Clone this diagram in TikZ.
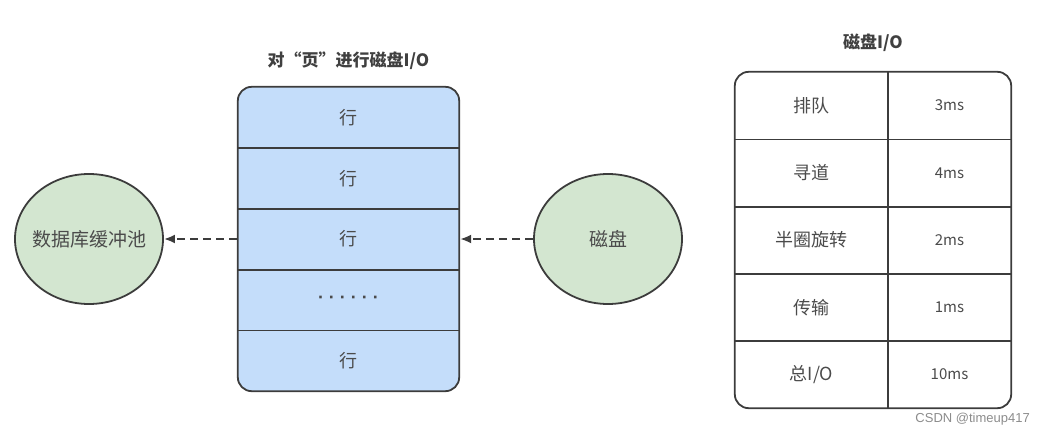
\documentclass[tikz,border=0pt]{standalone}
\usepackage{fontspec}
\newfontfamily\cn{Noto Sans CJK SC}
\newfontfamily\wm{Liberation Sans}
\usetikzlibrary{positioning,shapes,fit,arrows.meta,backgrounds}
\definecolor{poolgreen}{RGB}{211,230,208}
\definecolor{pageblue}{RGB}{196,221,250}
\definecolor{inkgray}{RGB}{60,60,60}
\definecolor{textgray}{RGB}{75,75,75}

\begin{document}
\begin{tikzpicture}
[x=1pt, y=-1pt, node distance=0pt,
 pool/.style={ellipse, draw=inkgray, line width=1.8pt, fill=poolgreen, minimum width=148pt, minimum height=130pt, inner xsep=-7pt, inner ysep=0pt, text=textgray, font=\cn\fontsize{19}{22}\selectfont},
 page/.style={draw=inkgray, line width=1.8pt, fill=pageblue, rounded corners=14pt, inner sep=0pt},
 rowcell/.style={minimum width=221pt, minimum height=60.8pt, inner sep=0pt, text=textgray, font=\cn\fontsize{18}{21}\selectfont},
 namecell/.style={minimum width=153pt, minimum height=67.2pt, inner sep=0pt, text=textgray, font=\cn\fontsize{18}{21}\selectfont},
 timecell/.style={minimum width=123pt, minimum height=67.2pt, inner sep=0pt, text=textgray, font=\cn\fontsize{15}{18}\selectfont},
 tableframe/.style={draw=inkgray, line width=1.8pt, rounded corners=14pt, inner sep=0pt},
 sep/.style={draw=inkgray, line width=1.8pt},
 title/.style={inner sep=0pt, text=black!75, font=\cn\bfseries\fontsize{17}{20}\selectfont},
 readarrow/.style={-{Latex[length=11pt,width=9pt]}, draw=inkgray, line width=2.2pt, dash pattern=on 8pt off 5pt},
 watermark/.style={inner sep=0pt, text=black!45, font=\wm\fontsize{13}{15}\selectfont}]
\useasboundingbox (0,0) rectangle (1044,436);
% one page, five rows
\matrix [row sep=0pt, inner sep=0pt] (page) at (348.5,239)
{\node[rowcell] (r1) {行}; \\
 \node[rowcell] (r2) {行}; \\
 \node[rowcell] (r3) {行}; \\
 \node[rowcell] (r4) {\wm\bfseries · · · · · ·}; \\
 \node[rowcell] (r5) {行}; \\
};
\begin{scope}[on background layer]
\node[page, fit={(r1) (r5)}] (frame) {};
\end{scope}
\foreach \r in {1,...,4}
  \draw[sep] (r\r.south west) -- (r\r.south east);
\node[title, above=16pt of frame] (pagetitle) {对“页”进行磁盘I/O};
% buffer pool and disk
\node[pool, left=73pt of frame] (buffer) {数据库缓冲池};
\node[pool, right=73pt of frame] (disk) {磁盘};
\draw[readarrow] (frame.west) -- (buffer.east);
\draw[readarrow] (disk.west) -- (frame.east);
% cost of one disk I/O
\matrix [row sep=0pt, column sep=0pt, inner sep=0pt] (iotable) at (873,240)
{\node[namecell] (n1) {排队}; & \node[timecell] (t1) {3ms}; \\
 \node[namecell] (n2) {寻道}; & \node[timecell] (t2) {4ms}; \\
 \node[namecell] (n3) {半圈旋转}; & \node[timecell] (t3) {2ms}; \\
 \node[namecell] (n4) {传输}; & \node[timecell] (t4) {1ms}; \\
 \node[namecell] (n5) {总I/O}; & \node[timecell] (t5) {10ms}; \\
};
\node[tableframe, fit={(n1) (t5)}] (tbox) {};
\foreach \r in {1,...,4}
  \draw[sep] (n\r.south west) -- (t\r.south east);
\draw[sep] (n1.north east) -- (n5.south east);
\node[title, above=19pt of tbox] (tabletitle) {磁盘I/O};
\node[watermark, anchor=east] (mark) at (1030,419) {CSDN @timeup417};
\end{tikzpicture}
\end{document}
